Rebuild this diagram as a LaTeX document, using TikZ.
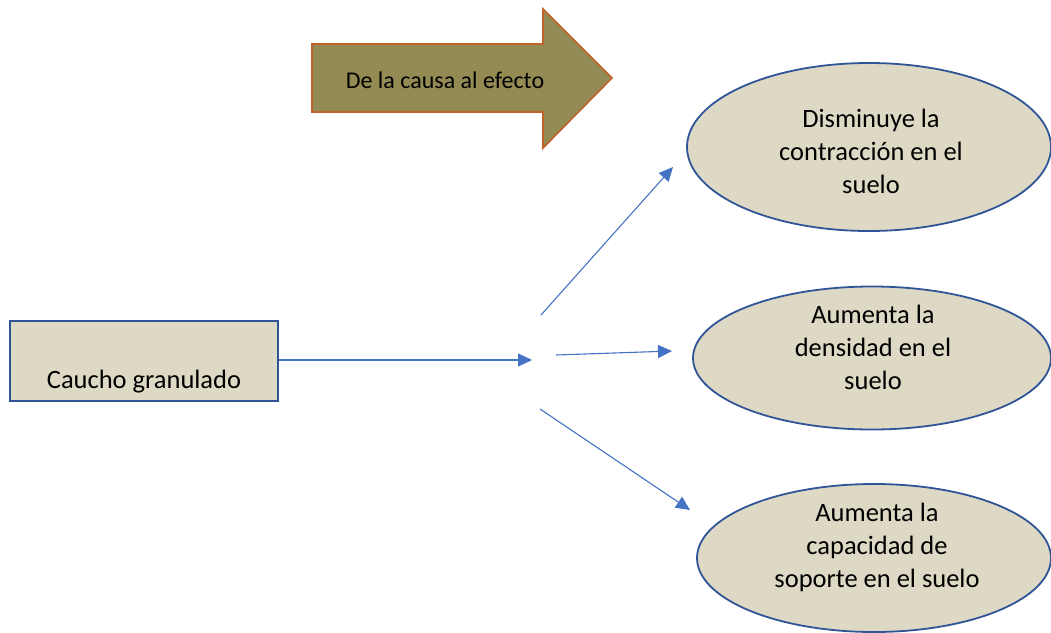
\documentclass[tikz,border=0pt]{standalone}
\usepackage{fontspec}
\setmainfont{Carlito}
\usetikzlibrary{arrows.meta,shapes.geometric}
\definecolor{paper}{HTML}{DDD9C4}
\definecolor{edge}{HTML}{2F5597}
\definecolor{olive}{HTML}{948A54}
\definecolor{rust}{HTML}{C0622A}
\definecolor{link}{HTML}{4472C4}

\begin{document}
\begin{tikzpicture}[x=1pt,y=-1pt,every node/.style={align=center,font=\fontsize{26.5}{33}\selectfont},
causebox/.style={draw=edge,fill=paper,line width=2.2pt,minimum width=268pt,minimum height=80pt,inner sep=0pt},
effect/.style={ellipse,draw=edge,fill=paper,line width=1.8pt,inner sep=0pt},
link/.style={draw=link,line width=1.1pt,-{Triangle[length=14pt,width=13pt]}}
]
\useasboundingbox (0,0) rectangle (1051,632);
% big arrow
\draw[fill=olive,draw=rust,line width=1.6pt] (312,44) -- (543,44) -- (543,9) -- (612,78) -- (543,148) -- (543,112) -- (312,112) -- cycle;
\node[font=\fontsize{24}{28}\selectfont] (sentido) at (445,80) {De la causa al efecto};
% cause
\node[causebox] (caucho) at (144,361) {\rule{0pt}{26pt}\\ Caucho granulado};
% effects
\node[effect,minimum width=364pt,minimum height=168pt] (contraccion) at (869,147) {};
\node (contraccionlbl) at (871,151) {Disminuye la\\ contracción en el\\ suelo};
\node[effect,minimum width=358pt,minimum height=143pt] (densidad) at (872,358) {};
\node (densidadlbl) at (873,347) {Aumenta la\\ densidad en el\\ suelo};
\node[effect,minimum width=354pt,minimum height=148pt] (soporte) at (874,558) {};
\node (soportelbl) at (877,547) {Aumenta la\\ capacidad de\\ soporte en el suelo};
% free ends
\coordinate (hub) at (532,360);
\coordinate (upstart) at (541,315);
\coordinate (upend) at (673,167);
\coordinate (midstart) at (556,355);
\coordinate (midend) at (672,351);
\coordinate (lowstart) at (540,409);
\coordinate (lowend) at (690,510);
\draw[link] (caucho.east |- hub) -- (hub);
\draw[link] (upstart) -- (upend); % <- to contraccion
\draw[link] (midstart) -- (midend); % <- to densidad
\draw[link] (lowstart) -- (lowend); % <- to soporte
\end{tikzpicture}
\end{document}
